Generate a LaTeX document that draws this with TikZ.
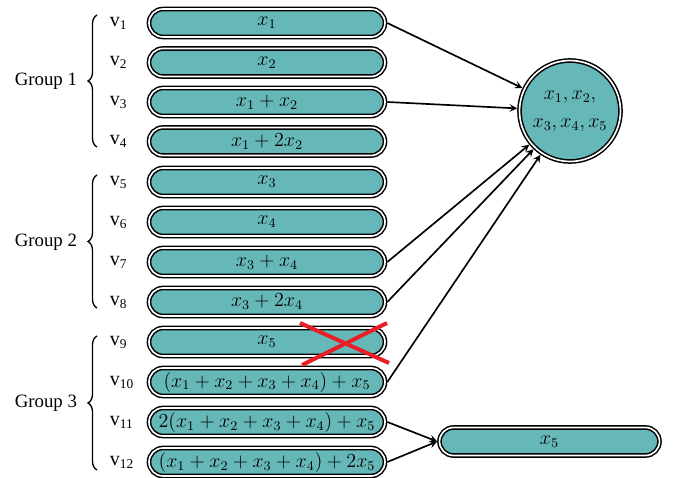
\documentclass[tikz,border=0pt,12pt]{standalone}
\usepackage{fontspec}
\setmainfont{Liberation Serif}
\usetikzlibrary{decorations.pathreplacing}
\definecolor{caixa}{RGB}{102,184,184}
\definecolor{cruz}{RGB}{232,30,40}
\begin{document}
\begin{tikzpicture}[x=0.6pt, y=-0.6pt, >=stealth,
	bloco/.style={draw=black, line width=0.9pt, double=white, double distance=1pt, fill=caixa, rounded corners=8.4pt, minimum width=141.6pt, minimum height=16.8pt, inner sep=0pt, outer sep=1.4pt},
	chave/.style={thick, decorate, decoration={brace, amplitude=5.4pt}},
	grupo/.style={anchor=east, font=\fontsize{11.3}{13}\selectfont}]
	\useasboundingbox (0,0) rectangle (677,478);
	
	% Blocos
	\node[bloco] (b1) at (267,23) {$x_1$};
	\node[bloco] (b2) at (267,62.5) {$x_2$};
	\node[bloco] (b3) at (267,102) {$x_1+x_2$};
	\node[bloco] (b4) at (267,141.5) {$x_1+2x_2$};
	\node[bloco] (b5) at (267,182) {$x_3$};
	\node[bloco] (b6) at (267,222) {$x_4$};
	\node[bloco] (b7) at (267,262) {$x_3+x_4$};
	\node[bloco] (b8) at (267,302) {$x_3+2x_4$};
	\node[bloco] (b9) at (267,342) {$x_5$};
	\node[bloco] (b10) at (267,382) {$(x_1+x_2+x_3+x_4)+x_5$};
	\node[bloco] (b11) at (267,422) {$2(x_1+x_2+x_3+x_4)+x_5$};
	\node[bloco] (b12) at (267,462) {$(x_1+x_2+x_3+x_4)+2x_5$};
	
	% Rotulos
	\node[anchor=west] (v1) at (103,23) {v\textsubscript{1}};
	\node[anchor=west] (v2) at (103,62.5) {v\textsubscript{2}};
	\node[anchor=west] (v3) at (103,102) {v\textsubscript{3}};
	\node[anchor=west] (v4) at (103,141.5) {v\textsubscript{4}};
	\node[anchor=west] (v5) at (103,182) {v\textsubscript{5}};
	\node[anchor=west] (v6) at (103,222) {v\textsubscript{6}};
	\node[anchor=west] (v7) at (103,262) {v\textsubscript{7}};
	\node[anchor=west] (v8) at (103,302) {v\textsubscript{8}};
	\node[anchor=west] (v9) at (103,342) {v\textsubscript{9}};
	\node[anchor=west] (v10) at (103,382) {v\textsubscript{10}};
	\node[anchor=west] (v11) at (103,422) {v\textsubscript{11}};
	\node[anchor=west] (v12) at (103,462) {v\textsubscript{12}};
	
	% Grupos
	\draw[chave] (97,147) -- (97,15);
	\draw[chave] (97,308) -- (97,175);
	\draw[chave] (97,470) -- (97,336);
	\node[grupo] (g1) at (84,81) {Group 1};
	\node[grupo] (g2) at (84,242) {Group 2};
	\node[grupo] (g3) at (84,403) {Group 3};
	
	% Destinos
	\node[bloco, circle, minimum size=60.6pt, align=center] (alvo) at (570,111) {$x_1, x_2,$\\[2.3pt]$x_3, x_4, x_5$};
	\node[bloco, minimum width=132pt] (r5) at (549.5,441.5) {$x_5$};
	
	% Setas
	\draw[line width=1pt, ->] (b1.east) -- (alvo);
	\draw[line width=1pt, ->] (b3.east) -- (alvo);
	\draw[line width=1pt, ->] (b7.east) -- (alvo);
	\draw[line width=1pt, ->] (b8.east) -- (alvo);
	\draw[line width=1pt, ->] (b10.east) -- (alvo);
	\draw[line width=1pt, ->] (b11.east) -- (r5.west);
	\draw[line width=1pt, ->] (b12.east) -- (r5.west);
	
	% Cruz
	\draw[cruz, line width=2.4pt] (300,323) -- (389,363);
	\draw[cruz, line width=2.4pt] (302,365) -- (387,323);
\end{tikzpicture}
\end{document}
